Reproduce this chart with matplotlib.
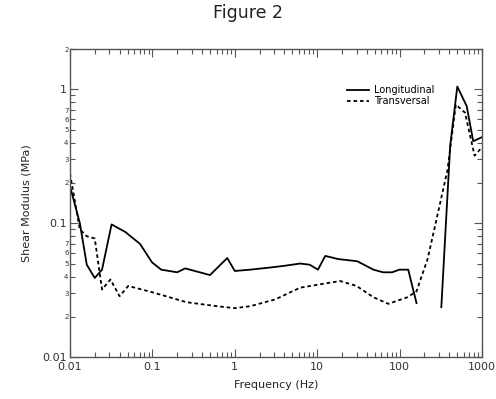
import matplotlib
matplotlib.use("Agg")
import matplotlib.pyplot as plt
from matplotlib.ticker import LogLocator, FuncFormatter, NullFormatter
import numpy as np

# Longitudinal curve (two pieces, gap between ~160 Hz and ~320 Hz)
freq_long_a = [0.01, 0.0132, 0.016, 0.020, 0.0245, 0.032, 0.047, 0.071, 0.099, 0.128,
               0.2, 0.25, 0.5, 0.81, 1.0, 1.54, 2.95, 3.9, 6.2, 8.1, 10.2, 12.5,
               18, 30.6, 48, 63, 81, 99, 127, 160]
mod_long_a = [0.19, 0.10, 0.049, 0.039, 0.045, 0.098, 0.086, 0.070, 0.051, 0.045,
              0.043, 0.046, 0.041, 0.055, 0.044, 0.045, 0.047, 0.048, 0.050, 0.049, 0.045, 0.057,
              0.054, 0.052, 0.045, 0.043, 0.043, 0.045, 0.045, 0.0253]
freq_long_b = [320, 410, 500, 650, 780, 1000]
mod_long_b = [0.0236, 0.38, 1.05, 0.75, 0.41, 0.44]

# Transversal curve
freq_trans = [0.01, 0.0132, 0.016, 0.020, 0.0245, 0.031, 0.040, 0.051, 0.1, 0.26,
              0.61, 1.0, 1.54, 3.1, 6.2, 10.9, 19, 30, 48, 73, 124, 160,
              218, 280, 380, 480, 620, 810, 1000]
mod_trans = [0.236, 0.09, 0.08, 0.077, 0.032, 0.038, 0.0285, 0.034, 0.0305, 0.0257,
             0.024, 0.0232, 0.024, 0.027, 0.033, 0.035, 0.037, 0.034, 0.028, 0.025, 0.028, 0.031,
             0.054, 0.107, 0.25, 0.77, 0.67, 0.32, 0.37]

grey = "#555555"
fig = plt.figure(figsize=(4.96, 3.99), dpi=100)
ax = fig.add_axes([0.141, 0.105, 0.831, 0.772])

ax.plot(freq_long_a, mod_long_a, color="black", lw=1.3, label="Longitudinal")
ax.plot(freq_long_b, mod_long_b, color="black", lw=1.3)
ax.plot(freq_trans, mod_trans, color="black", lw=1.3, linestyle=(0, (2, 1.6)), label="Transversal")

ax.set_xscale("log")
ax.set_yscale("log")
ax.set_xlim(0.01, 1000)
ax.set_ylim(0.01, 2)

ax.xaxis.set_major_locator(LogLocator(base=10, numticks=10))
ax.xaxis.set_major_formatter(FuncFormatter(lambda v, p: f"{v:g}"))
ax.xaxis.set_minor_locator(LogLocator(base=10, subs=np.arange(2, 10), numticks=20))
ax.xaxis.set_minor_formatter(NullFormatter())

ax.yaxis.set_major_locator(LogLocator(base=10, numticks=10))
ax.yaxis.set_major_formatter(FuncFormatter(lambda v, p: f"{v:g}"))
ax.yaxis.set_minor_locator(LogLocator(base=10, subs=np.arange(2, 10), numticks=20))


def minor_lab(v, p):
    d = int(round(v / 10 ** np.floor(np.log10(v) + 1e-9)))
    return str(d) if 2 <= d <= 7 else ""


ax.yaxis.set_minor_formatter(FuncFormatter(minor_lab))

ax.tick_params(which="both", direction="in", top=True, right=True, colors=grey, labelcolor="#333333")
ax.tick_params(which="major", length=6, width=0.8, labelsize=8)
ax.tick_params(which="minor", length=3.5, width=0.8, labelsize=5, pad=1)
ax.tick_params(axis="y", which="major", pad=2)
for s in ax.spines.values():
    s.set_color(grey)
    s.set_linewidth(1.0)

ax.set_xlabel("Frequency (Hz)", fontsize=8, color="#222222", labelpad=6)
ax.set_ylabel("Shear Modulus (MPa)", fontsize=8, color="#222222", labelpad=8)
fig.suptitle("Figure 2", fontsize=12.5, y=0.99, color="#222222")

leg = ax.legend(loc="upper right", bbox_to_anchor=(0.9, 0.905), frameon=False, fontsize=7,
                handlelength=2.2, handletextpad=0.5, labelspacing=0.1, borderpad=0.2)

fig.savefig("out.png", dpi=100)
